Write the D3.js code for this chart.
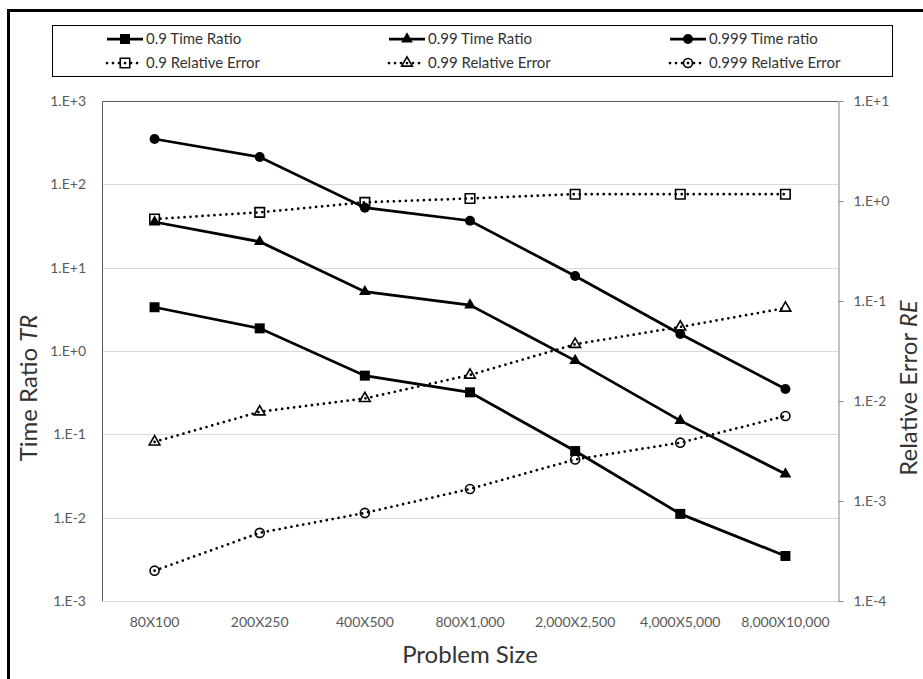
<!DOCTYPE html>
<html>
<head>
<meta charset="utf-8">
<script src="https://cdn.jsdelivr.net/npm/d3@7"></script>
<style>
  html, body { margin: 0; padding: 0; background: #fff; }
  svg { display: block; font-family: Lato, "Open Sans", sans-serif; }
</style>
</head>
<body>
<svg id="chart" width="923" height="679"></svg>
<script>
// Problem sizes along the x axis
const categories = ["80X100", "200X250", "400X500", "800X1,000", "2,000X2,500", "4,000X5,000", "8,000X10,000"];

// Time ratio TR (left axis)
const timeRatio90  = [3.35, 1.87, 0.506, 0.319, 0.063, 0.0111, 0.00347];
const timeRatio99  = [35.3, 20.5, 5.15, 3.56, 0.766, 0.146, 0.0334];
const timeRatio999 = [350, 213, 52.5, 36.6, 7.94, 1.6, 0.35];

// Relative error RE (right axis)
const relErr90  = [0.66, 0.77, 0.97, 1.06, 1.17, 1.17, 1.17];
const relErr99  = [0.0039, 0.0078, 0.0106, 0.0182, 0.0369, 0.055, 0.085];
const relErr999 = [0.000201, 0.00048, 0.00076, 0.00132, 0.0026, 0.00383, 0.00708];

// Tick labels
const leftTicks  = [1e-3, 1e-2, 1e-1, 1e0, 1e1, 1e2, 1e3];
const rightTicks = [1e-4, 1e-3, 1e-2, 1e-1, 1e0, 1e1];
const expLabel = v => { const e = Math.round(Math.log10(v)); return "1.E" + (e < 0 ? "-" : "+") + Math.abs(e); };

const svg = d3.select("#chart");
const W = 923, H = 679;
const plot = { left: 102, right: 838, top: 101, bottom: 601 };

svg.append("rect").attr("width", W).attr("height", H).attr("fill", "#fff");

// outer frame
svg.append("path")
  .attr("d", `M8.5,${H + 5} V10.5 H${W + 5}`)
  .attr("fill", "none").attr("stroke", "#000").attr("stroke-width", 3);

const x = d3.scaleBand().domain(categories).range([plot.left, plot.right]).padding(0);
const yL = d3.scaleLog().domain([1e-3, 1e3]).range([plot.bottom, plot.top]);
const yR = d3.scaleLog().domain([1e-4, 1e1]).range([plot.bottom, plot.top]);
const cx = c => x(c) + x.bandwidth() / 2;

// gridlines
svg.append("g").selectAll("line").data(leftTicks.slice(0, -1)).join("line")
  .attr("x1", plot.left).attr("x2", plot.right)
  .attr("y1", d => Math.round(yL(d)) + 0.5).attr("y2", d => Math.round(yL(d)) + 0.5)
  .attr("stroke", "#d9d9d9").attr("stroke-width", 1);

// top and left plot edges
svg.append("path")
  .attr("d", `M${plot.left + 0.5},${plot.bottom} V${plot.top + 0.5} H${plot.right}`)
  .attr("fill", "none").attr("stroke", "#595959").attr("stroke-width", 1);

// left axis labels
const axisL = d3.axisLeft(yL).tickValues(leftTicks).tickFormat(expLabel).tickSize(0).tickPadding(16);
const gL = svg.append("g").attr("transform", `translate(${plot.left},0)`).call(axisL);
gL.select(".domain").remove();
gL.selectAll("text").attr("font-family", "Lato").attr("font-size", 14).attr("fill", "#595959");

// right axis
const axisR = d3.axisRight(yR).tickValues(rightTicks).tickFormat(expLabel).tickSizeOuter(0).tickSizeInner(5).tickPadding(10);
const gR = svg.append("g").attr("transform", `translate(${plot.right + 0.5},0)`).call(axisR);
gR.select(".domain").attr("stroke", "#868686");
gR.selectAll(".tick line").attr("stroke", "#868686");
gR.selectAll("text").attr("font-family", "Lato").attr("font-size", 14).attr("fill", "#595959");

// category labels
const axisB = d3.axisBottom(x).tickSize(0).tickPadding(16);
const gB = svg.append("g").attr("transform", `translate(0,${plot.bottom})`).call(axisB);
gB.select(".domain").remove();
gB.selectAll("text").attr("font-family", "Lato").attr("font-size", 14).attr("fill", "#595959");

// axis titles
const titleL = svg.append("text")
  .attr("transform", `translate(37,388) rotate(-90)`)
  .attr("text-anchor", "middle").attr("font-size", 24).attr("fill", "#333");
titleL.append("tspan").text("Time Ratio ");
titleL.append("tspan").attr("font-style", "italic").text("TR");

const titleR = svg.append("text")
  .attr("transform", `translate(917,388) rotate(-90)`)
  .attr("text-anchor", "middle").attr("font-size", 24).attr("fill", "#333");
titleR.append("tspan").text("Relative Error ");
titleR.append("tspan").attr("font-style", "italic").text("RE");

svg.append("text").attr("x", (plot.left + plot.right) / 2).attr("y", 663)
  .attr("text-anchor", "middle").attr("font-size", 24).attr("fill", "#333")
  .text("Problem Size");

// series definitions
const series = [
  { name: "0.9 Time Ratio",        values: timeRatio90,  y: yL, dotted: false, shape: d3.symbolSquare,   size: 100, filled: true },
  { name: "0.99 Time Ratio",       values: timeRatio99,  y: yL, dotted: false, shape: d3.symbolTriangle, size: 60,  filled: true },
  { name: "0.999 Time ratio",      values: timeRatio999, y: yL, dotted: false, shape: d3.symbolCircle,   size: 78,  filled: true },
  { name: "0.9 Relative Error",    values: relErr90,     y: yR, dotted: true,  shape: d3.symbolSquare,   size: 90,  filled: false },
  { name: "0.99 Relative Error",   values: relErr99,     y: yR, dotted: true,  shape: d3.symbolTriangle, size: 50,  filled: false },
  { name: "0.999 Relative Error",  values: relErr999,    y: yR, dotted: true,  shape: d3.symbolCircle,   size: 64,  filled: false }
];

const styleLine = (sel, s) => {
  sel.attr("fill", "none").attr("stroke", "#000").attr("stroke-width", 2.75);
  if (s.dotted) sel.attr("stroke-dasharray", "0,6").attr("stroke-linecap", "round");
};
const styleMarker = (sel, s) => {
  if (s.filled) sel.attr("fill", "#000").attr("stroke", "none");
  else sel.attr("fill", "none").attr("stroke", "#000").attr("stroke-width", 1.6);
};

const line = yScale => d3.line().x((d, i) => cx(categories[i])).y(d => yScale(d));

series.forEach(s => {
  const g = svg.append("g");
  g.append("path").datum(s.values).attr("d", line(s.y)).call(styleLine, s);
  g.selectAll("path.mk").data(s.values).join("path").attr("class", "mk")
    .attr("transform", (d, i) => `translate(${cx(categories[i])},${s.y(d)})`)
    .attr("d", d3.symbol(s.shape, s.size)())
    .call(styleMarker, s);
});

// legend
const legend = svg.append("g");
legend.append("rect").attr("x", 52.5).attr("y", 25.5).attr("width", 840).attr("height", 51)
  .attr("fill", "#fff").attr("stroke", "#000").attr("stroke-width", 1);
const colX = [107, 389, 670], rowY = [39, 63];
series.forEach((s, i) => {
  const lx = colX[i % 3], ly = rowY[Math.floor(i / 3)];
  const item = legend.append("g");
  item.append("path").attr("d", `M${lx},${ly} H${lx + 36}`).call(styleLine, s);
  item.append("path").attr("transform", `translate(${lx + 18},${ly})`)
    .attr("d", d3.symbol(s.shape, s.size)()).call(styleMarker, s);
  item.append("text").attr("x", lx + 39).attr("y", ly).attr("dy", "0.35em")
    .attr("font-size", 15).attr("fill", "#333").text(s.name);
});
</script>
</body>
</html>
